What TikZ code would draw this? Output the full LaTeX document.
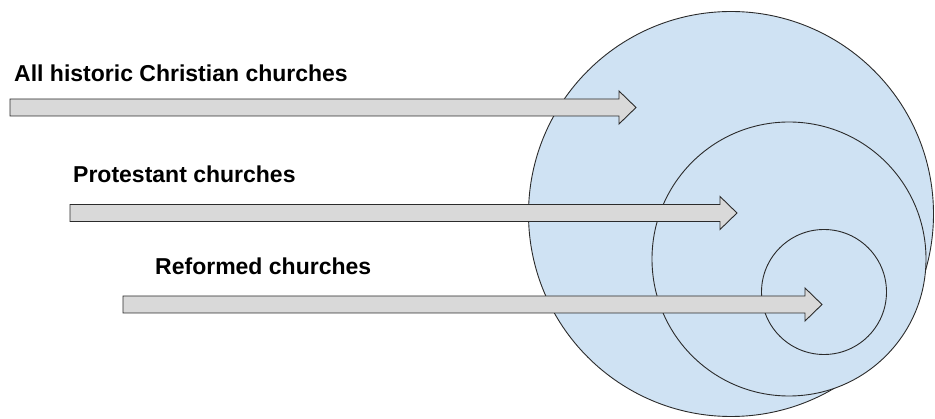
\documentclass[tikz,border=0pt]{standalone}
\usepackage{fontspec}
\setmainfont{Liberation Sans}
\definecolor{circfill}{HTML}{CFE2F3}
\definecolor{arrfill}{HTML}{D9D9D9}
\definecolor{edgecol}{HTML}{2B2B2B}
\tikzset{
  setcircle/.style={circle, draw=edgecol, fill=circfill, line width=0.9pt, inner sep=0pt},
  blockarrow/.style={draw=edgecol, fill=arrfill, line width=0.9pt, line join=miter},
  lbl/.style={anchor=base west, inner sep=0pt, font=\bfseries\fontsize{23}{26}\selectfont}
}
\newcommand\myarrow[3]{% x1, x2, y
  \draw[blockarrow] (#1,#3-8.5) -- (#2-17,#3-8.5) -- (#2-17,#3-16.5) -- (#2,#3)
    -- (#2-17,#3+16.5) -- (#2-17,#3+8.5) -- (#1,#3+8.5) -- cycle;}
\begin{document}
\begin{tikzpicture}[x=1pt,y=-1pt]
\useasboundingbox (0,0) rectangle (935,419);
\node[setcircle, minimum size=405pt] (big) at (731,214) {};
\node[setcircle, minimum size=274pt] (mid) at (789,259) {};
\node[setcircle, minimum size=125pt] (small) at (824,292) {};
\myarrow{10}{636}{107.5}
\myarrow{70}{737}{213}
\myarrow{123}{822}{304.5}
\node[lbl] (t1) at (14,82) {All historic Christian churches};
\node[lbl] (t2) at (73,183) {Protestant churches};
\node[lbl] (t3) at (155,275) {Reformed churches};
\end{tikzpicture}
\end{document}
